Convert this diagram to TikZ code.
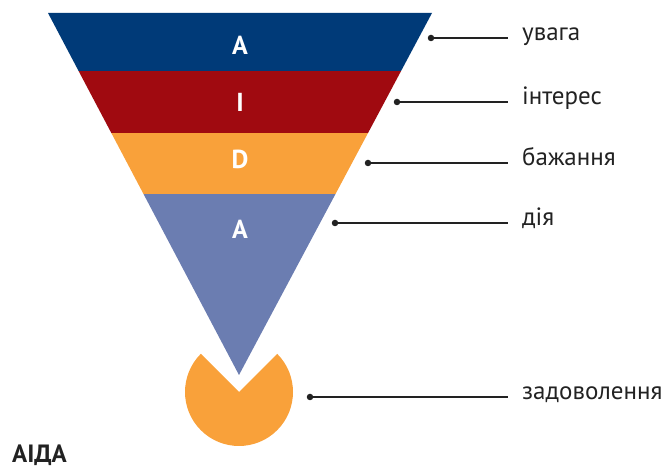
\documentclass[tikz,border=0pt]{standalone}
\usepackage{fontspec}
\setmainfont{PT Sans}
\usetikzlibrary{calc}
\definecolor{fblue}{HTML}{003A78}
\definecolor{fred}{HTML}{A00A10}
\definecolor{forange}{HTML}{F9A13A}
\definecolor{fslate}{HTML}{6B7DB1}
\definecolor{lgray}{HTML}{222222}
\tikzset{
  letter/.style={text=white,font=\fontsize{26}{30}\selectfont\bfseries,inner sep=0pt},
  dotnode/.style={circle,fill=lgray,inner sep=0pt,minimum size=6.5pt},
  lab/.style={anchor=mid west,inner sep=0pt,text=lgray,font=\fontsize{25}{29}\selectfont},
  conn/.style={draw=lgray,line width=1.4pt,shorten >=14pt}
}
\begin{document}
\begin{tikzpicture}[x=1pt,y=1pt]
\useasboundingbox (0,0) rectangle (668,470);
\coordinate (tl) at (48,457);
\coordinate (tr) at (432,457);
\coordinate (apex) at (239,95);
\begin{scope}
  \clip (tl) -- (tr) -- (apex) -- cycle;
  \fill[fblue] (0,399) rectangle (668,470);
  \fill[fred] (0,337) rectangle (668,399);
  \fill[forange] (0,276) rectangle (668,337);
  \fill[fslate] (0,0) rectangle (668,276);
\end{scope}
\coordinate (pc) at (239,78);
\fill[forange] (pc) -- ++(45:54) arc[start angle=45,end angle=-225,radius=54] -- cycle;
\node[letter] (la) at (240,425) {A};
\node[letter] (li) at (240,368) {I};
\node[letter] (ld) at (240,311) {D};
\node[letter] (la2) at (240,241) {A};
\node[dotnode] (d1) at (431,432) {};
\node[dotnode] (d2) at (397,368) {};
\node[dotnode] (d3) at (368,307) {};
\node[dotnode] (d4) at (335,247) {};
\node[dotnode] (d5) at (310,73) {};
\node[lab] (t1) at (522,432) {увага};
\node[lab] (t2) at (522,368) {інтерес};
\node[lab] (t3) at (522,307) {бажання};
\node[lab] (t4) at (522,247) {дія};
\node[lab] (t5) at (522,73) {задоволення};
\draw[conn] (d1.center) -- (t1.mid west);
\draw[conn] (d2.center) -- (t2.mid west);
\draw[conn] (d3.center) -- (t3.mid west);
\draw[conn] (d4.center) -- (t4.mid west);
\draw[conn] (d5.center) -- (t5.mid west);
\node[anchor=base west,inner sep=0pt,text=lgray,font=\fontsize{25}{29}\selectfont\bfseries] (title) at (12,7) {АІДА};
\end{tikzpicture}
\end{document}
